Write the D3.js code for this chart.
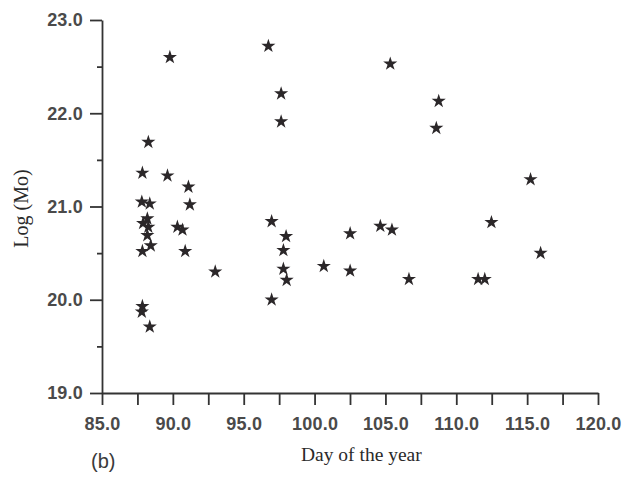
<!DOCTYPE html>
<html>
<head>
<meta charset="utf-8">
<script src="https://cdn.jsdelivr.net/npm/d3@7"></script>
<style>
  body { margin: 0; background: #fff; }
  svg { display: block; }
  .tick text { font-family: "Liberation Sans", Arial, sans-serif; }
</style>
</head>
<body>
<svg id="chart"></svg>
<script>
// day of the year / log(Mo)
const days = [88.27, 87.85, 89.62, 91.10, 87.81, 88.37, 91.20, 88.20, 87.90, 88.27,
    88.20, 90.32, 90.68, 88.44, 87.85, 90.87, 92.99, 87.85, 87.81, 88.37,
    89.79, 96.74, 97.64, 97.64, 96.97, 97.99, 97.80, 97.80, 98.03, 96.97,
    100.65, 102.51, 102.51, 104.64, 105.46, 106.66, 105.34, 108.76, 108.59, 112.48,
    115.24, 115.95, 111.54, 112.01]
const logMo = [21.69, 21.36, 21.33, 21.21, 21.05, 21.03, 21.02, 20.87, 20.82, 20.78,
    20.69, 20.78, 20.75, 20.58, 20.52, 20.52, 20.30, 19.93, 19.87, 19.71,
    22.60, 22.72, 22.21, 21.91, 20.84, 20.68, 20.53, 20.33, 20.21, 20.00,
    20.36, 20.71, 20.31, 20.79, 20.75, 20.22, 22.53, 22.13, 21.84, 20.83,
    21.29, 20.50, 20.22, 20.22]
const xTicks = [85, 87.5, 90, 92.5, 95, 97.5, 100, 102.5, 105, 107.5, 110, 112.5, 115, 117.5, 120]
const yMajor = [19, 20, 21, 22, 23]
const yMinor = [19.5, 20.5, 21.5, 22.5]

const data = days.map((d, i) => ({day: d, mo: logMo[i]}))

const width = 626, height = 478
const margin = {top: 20, right: 28, bottom: 85, left: 102}
const ink = "#333"

const svg = d3.select("svg#chart")
    .attr("width", width)
    .attr("height", height)

const x = d3.scaleLinear()
    .domain([85, 120])
    .range([margin.left, width - margin.right])

const y = d3.scaleLinear()
    .domain([19, 23])
    .range([height - margin.bottom, margin.top])

const styleLabels = g => g.selectAll(".tick text")
    .attr("font-size", 18)
    .attr("font-weight", "bold")
    .attr("letter-spacing", 0.2)
    .attr("fill", "#4a4a4a")

const xAxis = g => g
    .attr("transform", `translate(0,${height - margin.bottom})`)
    .call(d3.axisBottom(x)
        .tickValues(xTicks)
        .tickSize(12)
        .tickSizeOuter(0)
        .tickPadding(12)
        .tickFormat(d => d % 5 === 0 ? d.toFixed(1) : ""))
    .call(g => g.selectAll("path, line").attr("stroke", ink).attr("stroke-width", 1.8))
    .call(styleLabels)

const yAxis = g => g
    .attr("transform", `translate(${margin.left},0)`)
    .call(d3.axisLeft(y)
        .tickValues(yMajor)
        .tickSize(12)
        .tickSizeOuter(0)
        .tickPadding(7)
        .tickFormat(d => d.toFixed(1)))
    .call(g => g.selectAll("path, line").attr("stroke", ink).attr("stroke-width", 1.8))
    .call(styleLabels)

const yMinorAxis = g => g
    .attr("transform", `translate(${margin.left},0)`)
    .call(d3.axisLeft(y)
        .tickValues(yMinor)
        .tickSize(5)
        .tickFormat(""))
    .call(g => g.select(".domain").remove())
    .call(g => g.selectAll("line").attr("stroke", ink).attr("stroke-width", 1.8))

svg.append("g").call(xAxis)
svg.append("g").call(yAxis)
svg.append("g").call(yMinorAxis)

// stars
svg.append("g")
    .attr("fill", "#2b2729")
    .selectAll("path")
    .data(data)
    .join("path")
    .attr("transform", d => `translate(${x(d.day)},${y(d.mo)})`)
    .attr("d", d3.symbol(d3.symbolStar, 62))

// labels
svg.append("text")
    .attr("transform", `translate(28,${(y(23) + y(19)) / 2 + 2}) rotate(-90)`)
    .attr("text-anchor", "middle")
    .attr("font-family", "Liberation Serif, Times New Roman, serif")
    .attr("font-size", 20)
    .attr("fill", "#2a2a2a")
    .text("Log (Mo)")

svg.append("text")
    .attr("x", 301)
    .attr("y", 461)
    .attr("font-family", "Liberation Serif, Times New Roman, serif")
    .attr("font-size", 19.5)
    .attr("fill", "#2a2a2a")
    .text("Day of the year")

svg.append("text")
    .attr("x", 91)
    .attr("y", 468)
    .attr("font-family", "Liberation Sans, Arial, sans-serif")
    .attr("font-size", 20)
    .attr("fill", "#3a3a3a")
    .text("(b)")
</script>
</body>
</html>
